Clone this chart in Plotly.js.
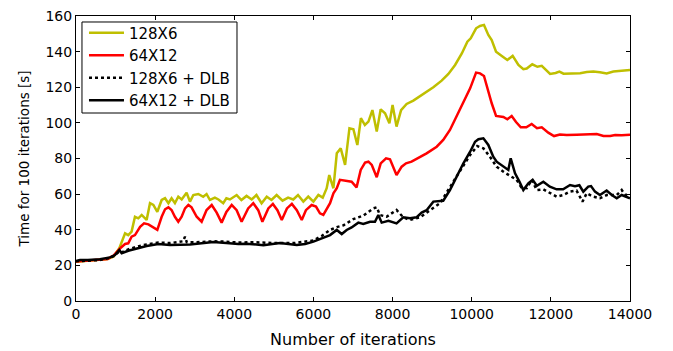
<!DOCTYPE html>
<html>
<head>
<meta charset="utf-8">
<script src="https://cdn.plot.ly/plotly-3.0.1.min.js"></script>
<style>html,body{margin:0;padding:0;background:#fff;}#chart{width:673px;height:351px;}</style>
</head>
<body>
<div id="chart"></div>
<script>
// Series names
const seriesNames = ["128X6", "64X12", "128X6 + DLB", "64X12 + DLB"];

// 128X6
const x128 = [0,200,400,600,800,950,1095,1240,1320,1405,1490,1575,1660,1785,1870,1955,2055,2165,2250,2335,2415,2500,2585,2670,2795,2880,2965,3090,3215,3300,3385,3510,3600,3720,3800,3890,4060,4180,4310,4440,4560,4690,4820,4940,5070,5220,5360,5490,5610,5745,5870,6000,6125,6235,6335,6400,6505,6590,6690,6800,6910,7010,7110,7200,7300,7390,7490,7600,7700,7810,7920,8000,8100,8215,8355,8525,8675,8820,9030,9240,9410,9580,9750,9890,9975,10110,10210,10310,10420,10505,10615,10760,10900,11035,11180,11305,11390,11530,11660,11770,11850,11980,12120,12215,12320,12490,12740,12905,13075,13240,13410,13580,13750,13875,14000];
const y128 = [22,22.3,22.5,22.8,23.5,25,29.6,38,37,39,47.3,46.4,48.3,45.5,54.9,53.9,50.1,56.7,57.7,54.9,57.7,55,58.6,57,60.8,55.8,59.5,60.1,58.5,60,56.7,58,57,54.9,57.7,57,59.5,56.7,59,57,59.5,54.9,58.6,56.7,59.5,56.3,58,57,59.5,55.8,58.6,55.8,59.5,58,63.3,70.7,63.3,82.9,85.7,76.4,97,96.4,87.6,102.6,98.8,100.7,107.2,95.1,107.6,105.4,99.8,110,97.9,107.2,110.6,112.5,114.7,116.6,120,123.7,127.5,132.5,139,145.6,147.5,153.1,154.4,155,149.4,146.5,140,137.6,135.3,137.6,132.5,130.1,130.5,132.9,131.5,132,130.1,127.5,128,128.8,127.6,127.6,127.9,128.6,128.8,128.4,127.8,128.8,129,129.4,129.7];

// 64X12
const x64 = [0,200,400,600,800,950,1110,1240,1320,1405,1490,1620,1720,1830,1940,2055,2165,2250,2335,2415,2500,2585,2670,2755,2840,2920,3050,3175,3300,3430,3555,3680,3800,3935,4060,4185,4350,4480,4605,4710,4860,4975,5090,5200,5330,5455,5580,5705,5810,5955,6065,6165,6250,6350,6420,6505,6590,6670,6840,6965,7090,7195,7305,7390,7475,7600,7700,7835,7935,8000,8100,8230,8340,8480,8650,8860,9115,9280,9450,9620,9790,9960,10110,10210,10310,10420,10505,10615,10800,10900,11010,11120,11240,11380,11515,11650,11770,11935,12080,12230,12400,12650,12905,13160,13330,13500,13625,13790,14000];
const y64 = [22.2,22.5,22.7,23,23.6,25.5,29.5,32,32.4,36.1,37,41.7,43.6,43,41.7,39.9,47.3,51.5,52.6,51.1,47.3,44.5,47.3,52,53.9,52.6,47.3,44.5,51.1,53.9,49.6,44,50,53.9,51,44.5,52,54.9,51,44.5,52,54.5,51,45.5,52,54.5,51,45.5,51,53.9,53,49.2,48.3,52.5,54.9,60.5,63.3,68,67.5,67,63.8,73.6,77.7,78.2,76.4,69.5,77.3,80.1,79.6,76.4,70.7,75.4,77.3,78.2,80.1,82.9,86.6,90.4,96,103.5,111.9,119.4,128.2,127.8,126.3,117.5,111,103.9,103.3,102,103.9,100.5,97.5,97.5,99.4,97,97.5,94.5,92.6,93.5,93.2,93.3,93.7,93.7,92.6,92.6,93.2,93,93.3];

// 128X6 + DLB
const x128dlb = [0,300,600,860,985,1095,1155,1320,1535,1785,2080,2375,2700,2755,2800,3050,3470,3800,4100,4500,5000,5500,6000,6210,6420,6590,6760,7010,7265,7515,7600,7680,7850,8100,8270,8440,8695,8860,9200,9620,9960,10140,10295,10460,10630,10800,11010,11135,11255,11390,11515,11645,11810,11975,12145,12310,12485,12650,12800,12905,13070,13240,13410,13665,13790,13875,14000];
const y128dlb = [22.3,22.6,23,24.3,25.5,28,27.3,29,30.5,31.8,32.8,32.5,33.5,36.1,33,33,33.5,33.3,32.8,33,32.5,32.5,34,36.5,39.9,41.5,42.5,46,48,52,52.6,48.3,47.3,51.1,47,45.5,47,49.6,54.9,70,82,87,85.7,81,75.4,72.6,69.8,68,63.8,63.3,68,62.3,62.7,60.5,58.6,59.5,61.4,62,55.8,60.5,58.6,57.7,59.5,59.5,62.3,59.5,60];

// 64X12 + DLB
const x64dlb = [0,100,300,605,860,985,1095,1155,1320,1535,1785,2080,2375,2880,3050,3470,3800,4100,4310,4735,5150,5580,5790,6000,6210,6420,6590,6715,6840,6965,7135,7260,7430,7555,7640,7725,7895,8100,8270,8440,8610,8735,8860,9030,9280,9450,9620,9790,9960,10085,10170,10295,10420,10545,10630,10800,10925,10985,11095,11205,11305,11430,11540,11645,11810,11975,12145,12310,12485,12610,12720,12820,12945,13015,13115,13240,13410,13540,13665,13790,13875,14000];
const y64dlb = [22.5,23,23,23.4,24.5,25.8,28.6,26.8,28.2,29.6,30.9,32,31.4,31.7,32,33.1,32.5,32,32.2,31.3,32.5,31.5,32,33.3,35.2,37,39.9,37.6,39.9,41.3,44,43.3,44.5,44.5,48.3,44,45,43.6,47,46.4,47,49.6,51,55.8,56.3,62.3,69.8,77.3,83.8,89.4,90.8,91.3,87.6,81,78.2,75.8,73.6,80.1,71.7,67,62.3,66,68,64.7,67,64.2,62.7,62.7,65.1,64.5,65,61.4,64.2,64.5,61.4,59.5,62,59.5,57.7,59.5,58.6,57.7];

// Axis ticks
const xTicks = [0,2000,4000,6000,8000,10000,12000,14000];
const yTicks = [0,20,40,60,80,100,120,140,160];

const FONT = "DejaVu Sans, sans-serif";
const traces = [
  {x: x128, y: y128, name: seriesNames[0], mode: "lines", line: {color: "#bfbf00", width: 2.5}},
  {x: x64, y: y64, name: seriesNames[1], mode: "lines", line: {color: "#ff0000", width: 2.5}},
  {x: x128dlb, y: y128dlb, name: seriesNames[2], mode: "lines", line: {color: "#000000", width: 2.5, dash: "dot"}},
  {x: x64dlb, y: y64dlb, name: seriesNames[3], mode: "lines", line: {color: "#000000", width: 2.5}}
];

const axisCommon = {
  showgrid: false, zeroline: false, showline: true, linecolor: "#000", linewidth: 1,
  mirror: "ticks", ticks: "inside", ticklen: 4, tickcolor: "#000", tickwidth: 1,
  tickfont: {family: FONT, size: 14, color: "#000"}
};

const layout = {
  width: 673, height: 351,
  margin: {l: 76, r: 43, t: 16, b: 50},
  paper_bgcolor: "#fff", plot_bgcolor: "#fff",
  font: {family: FONT, color: "#000"},
  showlegend: true,
  legend: {
    x: 0.0144, y: 0.998, xanchor: "left", yanchor: "top",
    bgcolor: "rgba(0,0,0,0)", borderwidth: 0, itemwidth: 35,
    font: {family: FONT, size: 15, color: "#000"}
  },
  shapes: [{
    type: "rect", xref: "paper", yref: "paper", layer: "above",
    x0: 0.0108, x1: 0.2906, y0: 0.6596, y1: 0.979,
    fillcolor: "#fff", line: {color: "#000", width: 1}
  }],
  xaxis: Object.assign({}, axisCommon, {
    range: [0, 14000], tickvals: xTicks, ticktext: xTicks.map(String),
    title: {text: "Number of iterations", font: {family: FONT, size: 16}, standoff: 13}
  }),
  yaxis: Object.assign({}, axisCommon, {
    range: [0, 160], tickvals: yTicks, ticktext: yTicks.map(String),
    title: {text: "Time for 100 iterations [s]", font: {family: FONT, size: 13.5}, standoff: 12}
  })
};

Plotly.newPlot("chart", traces, layout, {displayModeBar: false, staticPlot: true});
</script>
</body>
</html>
